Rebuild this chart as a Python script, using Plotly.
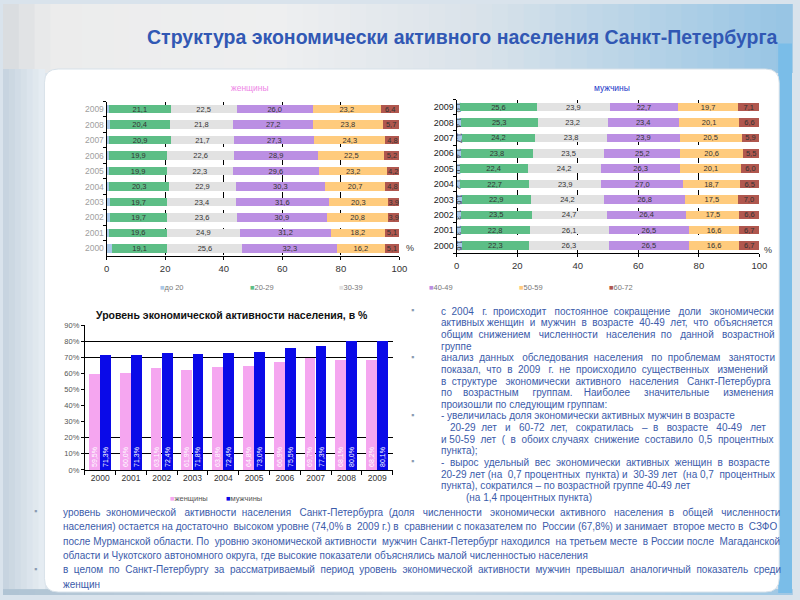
import plotly.graph_objects as go

# ---------------- data ----------------
YEARS = ["2000", "2001", "2002", "2003", "2004", "2005", "2006", "2007", "2008", "2009"]
AGE_GROUPS = ["до 20", "20-29", "30-39", "40-49", "50-59", "60-72"]
AGE_COLORS = ["#A9C8E8", "#5DBE86", "#E2E2E2", "#BB8FE3", "#FFCB7D", "#B0574E"]

# women, structure by age group, %, years 2000..2009
W_U20 = [1.7, 1.0, 1.1, 1.1, 1.0, 0.8, 0.9, 1.0, 1.1, 0.8]
W_2029 = [19.1, 19.6, 19.7, 19.7, 20.3, 19.9, 19.9, 20.9, 20.4, 21.1]
W_3039 = [25.6, 24.9, 23.6, 23.4, 22.9, 22.3, 22.6, 21.7, 21.8, 22.5]
W_4049 = [32.3, 31.2, 30.9, 31.6, 30.3, 29.6, 28.9, 27.3, 27.2, 26.0]
W_5059 = [16.2, 18.2, 20.8, 20.3, 20.7, 23.2, 22.5, 24.3, 23.8, 23.2]
W_6072 = [5.1, 5.1, 3.9, 3.9, 4.8, 4.2, 5.2, 4.8, 5.7, 6.4]

# men, structure by age group, %, years 2000..2009
M_U20 = [1.6, 1.3, 1.3, 1.6, 1.2, 1.0, 1.4, 1.7, 1.4, 1.0]
M_2029 = [22.3, 22.8, 23.5, 22.9, 22.7, 22.4, 23.8, 24.2, 25.3, 25.6]
M_3039 = [26.3, 26.1, 24.7, 24.2, 23.9, 24.2, 23.5, 23.8, 23.2, 23.9]
M_4049 = [26.5, 26.5, 26.4, 26.8, 27.0, 26.3, 25.2, 23.9, 23.4, 22.7]
M_5059 = [16.6, 16.6, 17.5, 17.5, 18.7, 20.1, 20.6, 20.5, 20.1, 19.7]
M_6072 = [6.7, 6.7, 6.6, 7.0, 6.5, 6.0, 5.5, 5.9, 6.6, 7.1]

# economic activity level, %
ACT_WOMEN = [59.5, 60.0, 63.1, 61.9, 63.8, 64.8, 66.9, 69.7, 68.1, 68.2]
ACT_MEN = [71.3, 71.3, 72.4, 71.8, 72.4, 73.0, 75.5, 77.3, 80.0, 80.1]
ACT_NAMES = ["женщины", "мужчины"]
ACT_COLORS = ["#F5A6F0", "#0A0AE8"]

X_TICKS = [0, 20, 40, 60, 80, 100]
X_GRID = [20, 40, 60, 80]
Y_TICKS = [0, 10, 20, 30, 40, 50, 60, 70, 80, 90]
Y_GRID = [10, 20, 70, 80, 90]

TITLE = "Структура экономически активного населения Санкт-Петербурга"
ACT_TITLE = "Уровень экономической активности населения, в %"

RIGHT_LINES = [
    ("с 2004 г. происходит постоянное сокращение доли экономически", 443, 777),
    ("активных женщин и мужчин в возрасте 40-49 лет, что объясняется", 443, 777),
    ("общим снижением численности населения по данной возрастной", 443, 777),
    ("группе", 443, None),
    ("анализ данных обследования населения по проблемам занятости", 443, 777),
    ("показал, что в 2009 г. не происходило существенных изменений", 443, 772),
    ("в структуре экономически активного населения Санкт-Петербурга", 443, 773),
    ("по возрастным группам. Наиболее значительные изменения", 443, 777),
    ("произошли по следующим группам:", 443, None),
    ("- увеличилась доля экономически активных мужчин в возрасте", 443, None),
    ("20-29 лет и 60-72 лет, сократилась – в возрасте 40-49 лет", 452, 770),
    ("и 50-59 лет ( в обоих случаях снижение составило 0,5 процентных", 443, 777),
    ("пункта);", 443, None),
    ("- вырос удельный вес экономически активных женщин в возрасте", 443, 772),
    ("20-29 лет (на 0,7 процентных пункта) и 30-39 лет (на 0,7 процентных", 443, 777),
    ("пункта), сократился – по возрастной группе 40-49 лет", 443, None),
    ("(на 1,4 процентных пункта)", 468, None),
]
RIGHT_BULLETS = [0, 4, 9, 13]

BOTTOM_LINES = [
    ("уровень экономической активности населения Санкт-Петербурга (доля численности экономически активного населения в общей численности", 60, 780),
    ("населения) остается на достаточно высоком уровне (74,0% в 2009 г.) в сравнении с показателем по России (67,8%) и занимает второе место в СЗФО", 60, 780),
    ("после Мурманской области. По уровню экономической активности мужчин Санкт-Петербург находился на третьем месте в России после Магаданской", 60, 780),
    ("области и Чукотского автономного округа, где высокие показатели объяснялись малой численностью населения", 60, None),
    ("в целом по Санкт-Петербургу  за рассматриваемый период  уровень  экономической активности мужчин превышал аналогичный показатель среди", 60, 780),
    ("женщин", 60, None),
]
BOTTOM_BULLETS = [0, 4]

# ---------------- helpers ----------------
W, H = 800, 600


def px(x):
    return x / W


def py(y):
    return 1 - y / H


CW = {' ': 278, '.': 278, ',': 278, ':': 278, ';': 278, '(': 333, ')': 333, '-': 333,
      '–': 556, '%': 889,
      'а': 556, 'б': 573, 'в': 531, 'г': 365, 'д': 583, 'е': 556, 'ж': 669, 'з': 458,
      'и': 559, 'й': 559, 'к': 438, 'л': 583, 'м': 688, 'н': 552, 'о': 556, 'п': 542,
      'р': 556, 'с': 500, 'т': 458, 'у': 500, 'ф': 823, 'х': 500, 'ц': 573, 'ч': 521,
      'ш': 802, 'щ': 823, 'ъ': 625, 'ы': 719, 'ь': 521, 'э': 510, 'ю': 750, 'я': 542,
      'С': 722, 'П': 719, 'Н': 722, 'Р': 667, 'М': 833, 'Ч': 667, 'З': 604, 'Ф': 760,
      'О': 778}


def tw(s, f):
    return sum(CW.get(ch, 556) for ch in s) * f / 1000.0


def justify(text, x0, x1, f):
    words = text.split()
    if x1 is None or len(words) < 2:
        return text, f
    base = ' '.join(words)
    natural = tw(base, f)
    target = x1 - x0
    if natural >= target:
        return base, f * target / natural
    sp = 278 * f / 1000.0
    extra = int(round((target - natural) / sp))
    gaps = len(words) - 1
    out = words[0]
    for i, wd in enumerate(words[1:]):
        k = extra * (i + 1) // gaps - extra * i // gaps
        out += ' ' + '\u00a0' * k + wd
    return out, f


def lerp(c1, c2, t):
    return tuple(int(round(a + (b - a) * t)) for a, b in zip(c1, c2))


def grad(stops, t):
    for (t0, c0), (t1, c1) in zip(stops[:-1], stops[1:]):
        if t0 <= t <= t1:
            return lerp(c0, c1, (t - t0) / (t1 - t0) if t1 > t0 else 0)
    return stops[-1][1]


def rgb(c):
    return "rgb(%d,%d,%d)" % c


def fmt(v):
    return ("%.1f" % v).replace('.', ',')


FONT = "Liberation Sans, Arial, sans-serif"

fig = go.Figure()

# ---------------- stacked structure charts ----------------
women = [W_U20, W_2029, W_3039, W_4049, W_5059, W_6072]
men = [M_U20, M_2029, M_3039, M_4049, M_5059, M_6072]

for i, (name, col) in enumerate(zip(AGE_GROUPS, AGE_COLORS)):
    fig.add_trace(go.Bar(
        y=YEARS, x=women[i], orientation='h', name=name, marker_color=col,
        marker_line_width=0, width=0.55, xaxis='x', yaxis='y', showlegend=False,
        text=None if i == 0 else [fmt(v) for v in women[i]],
        textposition='none' if i == 0 else 'inside', insidetextanchor='middle',
        constraintext='none',
        insidetextfont=dict(size=7.5, color='#333', family=FONT),
        hoverinfo='skip'))
    fig.add_trace(go.Bar(
        y=YEARS, x=men[i], orientation='h', name=name, marker_color=col,
        marker_line_width=0, width=0.55, xaxis='x2', yaxis='y2', showlegend=False,
        text=[fmt(v) for v in men[i]],
        textposition='inside', insidetextanchor='middle', constraintext='none',
        insidetextfont=dict(size=7.5, color='#333', family=FONT),
        hoverinfo='skip'))

# ---------------- activity chart ----------------
fig.add_trace(go.Bar(
    x=YEARS, y=ACT_WOMEN, name=ACT_NAMES[0], marker_color=ACT_COLORS[0],
    marker_line_width=0, width=0.35, offset=-0.36, xaxis='x3', yaxis='y3',
    text=[fmt(v) + '%' for v in ACT_WOMEN], textposition='inside',
    insidetextanchor='start', textangle=-90, constraintext='none',
    insidetextfont=dict(size=7, color='white', family=FONT),
    showlegend=False, hoverinfo='skip'))
fig.add_trace(go.Bar(
    x=YEARS, y=ACT_MEN, name=ACT_NAMES[1], marker_color=ACT_COLORS[1],
    marker_line_width=0, width=0.35, offset=0.0, xaxis='x3', yaxis='y4',
    text=[fmt(v) + '%' for v in ACT_MEN], textposition='inside',
    insidetextanchor='start', textangle=-90, constraintext='none',
    insidetextfont=dict(size=7, color='white', family=FONT),
    showlegend=False, hoverinfo='skip'))

# ---------------- axes ----------------
common_x = dict(range=[0, 100], tickvals=X_TICKS, showgrid=False, zeroline=False,
                minor=dict(tickvals=X_GRID, showgrid=True, gridcolor='#000',
                           griddash='dash', gridwidth=1, ticks=''),
                showline=True, linecolor='#000', linewidth=1, ticks='outside',
                ticklen=3, tickcolor='#000', fixedrange=True,
                tickfont=dict(size=9.5, color='#333', family=FONT))
common_y = dict(type='category', categoryorder='array', categoryarray=YEARS,
                showline=True, linecolor='#000', linewidth=1, ticks='outside',
                tickson='boundaries', ticklen=3, tickcolor='#000', showgrid=False,
                fixedrange=True)

fig.update_layout(
    xaxis=dict(domain=[px(105), px(402)], anchor='y', **common_x),
    yaxis=dict(domain=[py(256), py(99)], anchor='x',
               tickfont=dict(size=8.5, color='#a0a0a0', family=FONT), **common_y),
    xaxis2=dict(domain=[px(460), px(767)], anchor='y2', **common_x),
    yaxis2=dict(domain=[py(253), py(97)], anchor='x2',
                tickfont=dict(size=9, color='#222', family=FONT), **common_y),
    xaxis3=dict(domain=[px(83), px(395)], anchor='y3', type='category',
                categoryorder='array', categoryarray=YEARS,
                showline=True, linecolor='#000', ticks='outside', tickson='boundaries',
                ticklen=4, tickcolor='#000', showgrid=False, fixedrange=True,
                tickfont=dict(size=8.5, color='#333', family=FONT)),
    yaxis3=dict(domain=[py(473), py(326)], anchor='x3', range=[0, 90],
                tickvals=Y_TICKS, ticktext=["%d%%" % v for v in Y_TICKS],
                showgrid=False, zeroline=False,
                minor=dict(tickvals=Y_GRID, showgrid=True, gridcolor='#000',
                           gridwidth=1, ticks=''),
                showline=True, linecolor='#000', ticks='outside', ticklen=3,
                tickcolor='#000', fixedrange=True,
                tickfont=dict(size=7.5, color='#555', family=FONT)),
    yaxis4=dict(overlaying='y3', anchor='x3', range=[0, 90], visible=False,
                fixedrange=True),
)

# ---------------- background shapes ----------------
shapes = []
# header gradient
hstops = [(0.0, (214, 218, 222)), (0.06, (236, 236, 236)), (0.35, (238, 239, 240)),
          (0.6, (218, 227, 234)), (1.0, (150, 196, 228))]
N = 50
for i in range(N):
    x0, x1 = i * W / N, (i + 1) * W / N
    c = grad(hstops, (i + 0.5) / N)
    shapes.append(dict(type='rect', xref='paper', yref='paper', x0=px(x0), x1=px(x1) + 0.001,
                       y0=py(70), y1=1, fillcolor=rgb(c), line_width=0, layer='below'))
# left column gradient
for i in range(7):
    x0, x1 = i * 6, (i + 1) * 6
    c = lerp((196, 210, 222), (232, 238, 243), (i + 0.5) / 7)
    shapes.append(dict(type='rect', xref='paper', yref='paper', x0=px(x0), x1=px(x1) + 0.001,
                       y0=0, y1=py(66), fillcolor=rgb(c), line_width=0, layer='below'))
# bottom band
bstops = [(0.0, (176, 196, 212)), (0.5, (198, 212, 224)), (1.0, (160, 200, 228))]
for i in range(N):
    x0, x1 = i * W / N, (i + 1) * W / N
    c = grad(bstops, (i + 0.5) / N)
    shapes.append(dict(type='rect', xref='paper', yref='paper', x0=px(x0), x1=px(x1) + 0.001,
                       y0=0, y1=py(594), fillcolor=rgb(c), line_width=0, layer='below'))
# right stripe
shapes.append(dict(type='rect', xref='paper', yref='paper', x0=px(786), x1=1,
                   y0=py(598), y1=py(40), fillcolor='rgb(122,189,232)', line_width=0,
                   layer='below'))
# white rounded panel
L, R, T, B, r = 42, 787, 66, 597, 14
rx, ry = r / W, r / H
path = ("M {a},{t} L {b},{t} Q {R},{t} {R},{t2} L {R},{b2} Q {R},{B} {b},{B} "
        "L {a},{B} Q {L},{B} {L},{b2} L {L},{t2} Q {L},{t} {a},{t} Z").format(
    a=px(L) + rx, b=px(R) - rx, t=py(T), t2=py(T) - ry, R=px(R), L=px(L),
    B=py(B), b2=py(B) + ry)
shapes.append(dict(type='path', xref='paper', yref='paper', path=path,
                   fillcolor='white', line=dict(color='rgb(215,225,233)', width=1),
                   layer='below'))
fig.update_layout(shapes=shapes)

# ---------------- annotations ----------------
ann = []


def text(x, y, s, size=10, color='#333', anchor='left', bold=False, family=FONT):
    ann.append(dict(xref='paper', yref='paper', x=px(x), y=py(y), text=('<b>%s</b>' % s) if bold else s,
                    showarrow=False, xanchor=anchor, yanchor='middle',
                    font=dict(size=size, color=color, family=family), borderpad=0))


text(466, 33, TITLE, size=19.5, color='#3158B4', anchor='center', bold=True)
text(250, 85, "женщины", size=8.5, color='#EE86E6', anchor='center')
text(617, 85, "мужчины", size=8.5, color='#2236C8', anchor='center')
text(408, 248, "%", size=9, color='#333')
text(771, 250, "%", size=9, color='#333')

# age-group legend
LEG_X = [158, 249, 340, 431, 522, 613]
for name, col, lx in zip(AGE_GROUPS, AGE_COLORS, LEG_X):
    text(lx, 288, '<span style="color:%s">■</span>%s' % (col, name), size=7.5, color='#777')

# activity chart title & legend
text(232, 316, ACT_TITLE, size=10.5, color='#111', anchor='center', bold=True)
for name, col, lx in zip(ACT_NAMES, ACT_COLORS, [168, 225]):
    text(lx, 502, '<span style="color:%s">■</span>%s' % (col, name), size=7.5, color='#555')

# right text block
TXT_COLOR = '#3B5BAA'
for i, (s, x0, x1) in enumerate(RIGHT_LINES):
    js, f = justify(s, x0, x1, 10)
    text(x0, 312 + i * 11.8, js, size=f, color=TXT_COLOR)
for i in RIGHT_BULLETS:
    text(413, 311 + i * 11.8, '▪', size=9, color='#8A9BB2')

# bottom text block
for i, (s, x0, x1) in enumerate(BOTTOM_LINES):
    js, f = justify(s, x0, x1, 10)
    text(x0, 516 + i * 14.6, js, size=f, color=TXT_COLOR)
for i in BOTTOM_BULLETS:
    text(30, 515 + i * 14.6, '▪', size=9, color='#8A9BB2')

fig.update_layout(
    annotations=ann,
    barmode='stack',
    width=W, height=H, autosize=False,
    margin=dict(l=0, r=0, t=0, b=0, pad=0),
    paper_bgcolor='rgb(217,227,236)', plot_bgcolor='rgba(0,0,0,0)',
    font=dict(family=FONT),
    showlegend=False,
)

fig.write_html("out.html", config={'displayModeBar': False},
               post_script="document.body.style.margin='0';document.body.style.overflow='hidden';")
